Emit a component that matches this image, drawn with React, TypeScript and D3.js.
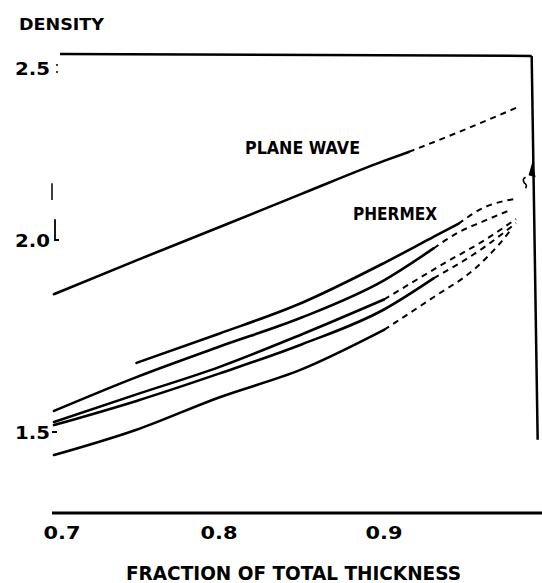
import React from "react";
import * as d3 from "d3";

// ---------- data ----------
const xTicks = [0.7, 0.8, 0.9];
const xTickLabels = ["0.7", "0.8", "0.9"];
const yTicks = [1.5, 2.0, 2.5];
const yTickLabels = ["1.5", "2.0", "2.5"];

const planeWaveX = [0.7, 0.75, 0.8, 0.85, 0.9, 0.915, 0.95, 0.98];
const planeWaveY = [1.859, 1.947, 2.037, 2.134, 2.23, 2.256, 2.323, 2.384];

const phermexAX = [0.75, 0.8, 0.85, 0.9, 0.93, 0.945, 0.96, 0.98];
const phermexAY = [1.68, 1.756, 1.836, 1.94, 2.009, 2.047, 2.093, 2.12];

const phermexBX = [0.7, 0.75, 0.8, 0.85, 0.9, 0.93, 0.945, 0.96, 0.975];
const phermexBY = [1.555, 1.643, 1.722, 1.798, 1.895, 1.978, 2.022, 2.054, 2.084];

const phermexCX = [0.7, 0.75, 0.8, 0.85, 0.9, 0.94, 0.96, 0.98];
const phermexCY = [1.526, 1.598, 1.669, 1.754, 1.845, 1.948, 1.997, 2.061];

const phermexDX = [0.7, 0.75, 0.8, 0.85, 0.9, 0.93, 0.96, 0.98];
const phermexDY = [1.518, 1.581, 1.652, 1.728, 1.819, 1.9, 1.979, 2.049];

const phermexEX = [0.7, 0.75, 0.8, 0.85, 0.9, 0.93, 0.955, 0.97, 0.977];
const phermexEY = [1.44, 1.506, 1.59, 1.663, 1.766, 1.851, 1.925, 1.99, 2.03];

// index of last point drawn solid; the rest is a broken (faded) tail
const seriesXs = [planeWaveX, phermexAX, phermexBX, phermexCX, phermexDX, phermexEX];
const seriesYs = [planeWaveY, phermexAY, phermexBY, phermexCY, phermexDY, phermexEY];
const solidEnd = [5, 5, 5, 4, 5, 4];

const yTitle = "DENSITY";
const xTitle = "FRACTION OF TOTAL THICKNESS";
const labelPlane = "PLANE WAVE";
const labelPhermex = "PHERMEX";

// ---------- layout ----------
const W = 542;
const H = 583;
const FONT = "'DejaVu Sans', 'Liberation Sans', sans-serif";

export default function App() {
  const x = d3.scaleLinear().domain([0.7, 0.8]).range([54, 219]);
  // the scanned figure's y axis is slightly uneven: piecewise linear
  const y = d3.scaleLinear().domain([1.5, 2.0, 2.5]).range([432, 240, 68]);

  const xLeft = x(0.7);
  const xRight = x(0.9895);
  const yTop = y(2.541);
  const yBottom = y(1.289);

  const line = d3
    .line<[number, number]>()
    .x((d) => x(d[0]))
    .y((d) => y(d[1]))
    .curve(d3.curveMonotoneX);

  const paths = seriesXs.map((xs, i) => {
    const pts: [number, number][] = xs.map((v, j) => [v, seriesYs[i][j]]);
    const solid = pts.slice(0, solidEnd[i] + 1);
    const tail = pts.slice(solidEnd[i]);
    return { solid: line(solid) || "", tail: line(tail) || "" };
  });

  const markX = x(0.987);
  const markY = y(2.2);

  return (
    <svg
      width={W}
      height={H}
      style={{ position: "absolute", left: 0, top: 0, background: "#fff" }}
    >
      <rect x={0} y={0} width={W} height={H} fill="#fff" />
      {/* frame */}
      <line x1={xLeft + 6} y1={yTop} x2={xRight} y2={yTop + 2} stroke="#000" strokeWidth={2.5} />
      <line x1={xRight} y1={yTop + 2} x2={xRight + 6} y2={y(1.48)} stroke="#000" strokeWidth={2.5} />
      <line x1={xLeft - 2} y1={yBottom} x2={W} y2={yBottom} stroke="#000" strokeWidth={3} />

      {/* left tick marks */}
      <circle cx={xLeft + 3} cy={y(2.5) - 3} r={1} fill="#000" />
      <circle cx={xLeft + 3} cy={y(2.5) + 4} r={1} fill="#000" />
      <line x1={xLeft - 2} y1={y(2.165)} x2={xLeft - 2} y2={y(2.116)} stroke="#000" strokeWidth={1.5} />
      <path
        d={`M${xLeft + 1},${y(2.06)} V${y(2.0)} H${xLeft + 5}`}
        fill="none"
        stroke="#000"
        strokeWidth={1.8}
      />
      <line x1={xLeft - 2} y1={y(1.5)} x2={xLeft + 3} y2={y(1.5)} stroke="#000" strokeWidth={2} />

      {/* curves */}
      {paths.map((p, i) => (
        <g key={i}>
          <path d={p.solid} fill="none" stroke="#000" strokeWidth={2.6} strokeLinecap="round" />
          <path
            d={p.tail}
            fill="none"
            stroke="#000"
            strokeWidth={2}
            strokeDasharray="6 5"
          />
        </g>
      ))}

      {/* small arrow mark at right edge */}
      <g transform={`translate(${markX},${markY})`}>
        <path d="M1,4 L5,-10 L8,6 Z" fill="#000" />
        <path d="M-2,6 Q-6,8 -3,12 Q0,14 -2,17" fill="none" stroke="#000" strokeWidth={1.6} />
      </g>

      {/* y tick labels */}
      {yTicks.map((v, i) => (
        <text
          key={v}
          x={xLeft - 4}
          y={y(v) + 7}
          textAnchor="end"
          fontFamily={FONT}
          fontWeight={700}
          fontSize={18}
          textLength={35}
          lengthAdjust="spacingAndGlyphs"
        >
          {yTickLabels[i]}
        </text>
      ))}

      {/* x tick labels */}
      {xTicks.map((v, i) => (
        <text
          key={v}
          x={x(v) + (i === 0 ? 8 : 0)}
          y={yBottom + 26}
          textAnchor="middle"
          fontFamily={FONT}
          fontWeight={700}
          fontSize={18}
          textLength={37}
          lengthAdjust="spacingAndGlyphs"
        >
          {xTickLabels[i]}
        </text>
      ))}

      {/* titles */}
      <text
        x={19}
        y={30}
        fontFamily={FONT}
        fontWeight={700}
        fontSize={16}
        textLength={85}
        lengthAdjust="spacingAndGlyphs"
      >
        {yTitle}
      </text>
      <text
        x={126}
        y={580}
        fontFamily={FONT}
        fontWeight={700}
        fontSize={19}
        textLength={335}
        lengthAdjust="spacingAndGlyphs"
      >
        {xTitle}
      </text>

      {/* curve labels */}
      <text
        x={245}
        y={154}
        fontFamily={FONT}
        fontWeight={700}
        fontSize={17}
        textLength={115}
        lengthAdjust="spacingAndGlyphs"
      >
        {labelPlane}
      </text>
      <text
        x={353}
        y={220}
        fontFamily={FONT}
        fontWeight={700}
        fontSize={17}
        textLength={84}
        lengthAdjust="spacingAndGlyphs"
      >
        {labelPhermex}
      </text>
    </svg>
  );
}
